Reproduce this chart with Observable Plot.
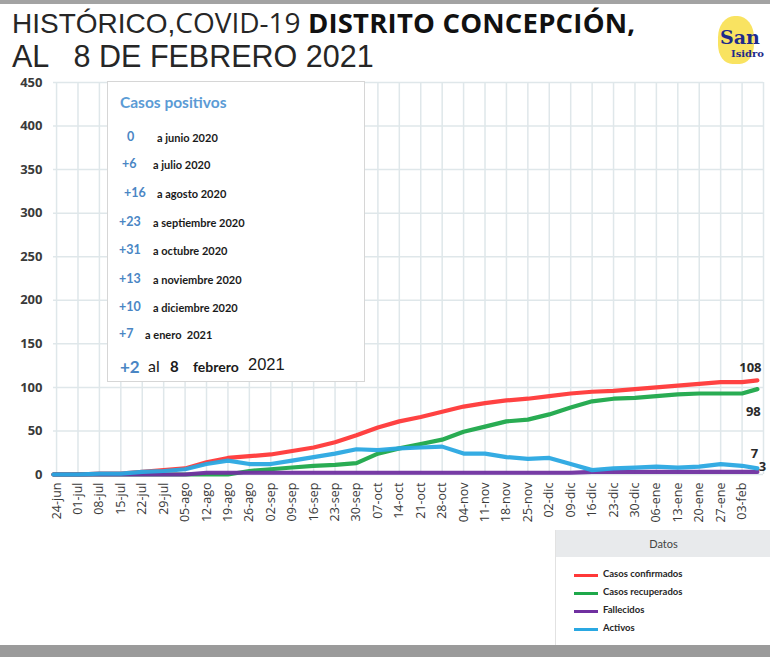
<!DOCTYPE html>
<html>
<head>
<meta charset="utf-8">
<script src="https://cdn.jsdelivr.net/npm/d3@7"></script>
<script src="https://cdn.jsdelivr.net/npm/@observablehq/plot@0.6"></script>
<style>
  html, body { margin: 0; padding: 0; background: #fff; }
  #page { position: relative; width: 770px; height: 657px; overflow: hidden; background: #fff; }
  .topbar { position: absolute; left: 0; top: 0; width: 770px; height: 4px; background: #a3a3a3; }
  .botbar { position: absolute; left: 0; top: 645px; width: 770px; height: 12px; background: #9b9b9b; }
  #title { position: absolute; left: 12px; top: 4px; color: #262626; white-space: pre; }
  #title .l1 { position: absolute; left: 0; top: 0; height: 36px; line-height: 36px; white-space: pre; }
  #title .l2 { position: absolute; left: 0; top: 37px; height: 30px; line-height: 30px; white-space: pre; font-family: "Liberation Sans", Arial, sans-serif; font-size: 30.5px; }
  .arial { font-family: "Liberation Sans", Arial, sans-serif; font-size: 28px; }
  .osans { font-family: "Open Sans", sans-serif; font-size: 28px; }
  .osansb { font-family: "Open Sans", sans-serif; font-size: 27.5px; font-weight: bold; color: #111; letter-spacing: 0.2px; }
  #logo { position: absolute; left: 714px; top: 14px; width: 52px; height: 54px; }
  #logo .emb { position: absolute; left: 4px; top: 2px; width: 36px; height: 48px; border-radius: 45% 45% 40% 40%; background: #f7dc3a; opacity: 0.8; }
  #logo .san { position: absolute; left: 6px; top: 12px; font-family: "DejaVu Serif", serif; font-weight: bold; font-size: 19px; color: #1e2a8a; }
  #logo .isidro { position: absolute; left: 17px; top: 34px; font-family: "DejaVu Serif", serif; font-weight: bold; font-size: 10px; color: #1e2a8a; }
  #chart { position: absolute; left: 0; top: 72px; }
  #box { position: absolute; left: 107px; top: 81px; width: 256px; height: 299px; background: #fff; border: 1px solid #d6d6d6; font-family: Lato, sans-serif; }
  #box .hdr { position: absolute; left: 12px; top: 11px; font-size: 15.5px; font-weight: bold; color: #5b9bd5; }
  #box .n { position: absolute; font-weight: bold; color: #4a86c4; font-size: 12.5px; }
  #box .t { position: absolute; font-weight: bold; color: #1a1a1a; font-size: 11px; }
  #legend { position: absolute; left: 555px; top: 530px; width: 215px; height: 115px; border-left: 1px solid #e2e2e2; background: #fff; font-family: Lato, sans-serif; }
  #legend .head { height: 27px; line-height: 27px; background: #e8eaec; text-align: center; font-size: 11px; color: #444; }
  #legend .item { position: absolute; left: 18px; height: 12px; font-size: 9.5px; font-weight: bold; color: #262626; }
  #legend .sw { position: absolute; left: 0; top: 5px; width: 24px; height: 3px; }
  #legend .lbl { position: absolute; left: 29px; top: -1px; white-space: nowrap; }
</style>
</head>
<body>
<div id="page">
  <div class="topbar"></div>
  <div id="title">
    <div class="l1"><span class="arial">HISTÓRICO,</span><span class="osans">COVID-19 </span><span class="osansb">DISTRITO CONCEPCIÓN,</span></div>
    <div class="l2">AL   8 DE FEBRERO 2021</div>
  </div>
  <div id="logo"><div class="emb"></div><div class="san">San</div><div class="isidro">Isidro</div></div>
  <div id="chart"></div>
  <div id="box"></div>
  <div id="legend"></div>
  <div class="botbar"></div>
</div>
<script>
// ---- Data ----
const weekDates = ["2020-06-24","2020-07-01","2020-07-08","2020-07-15","2020-07-22","2020-07-29","2020-08-05","2020-08-12","2020-08-19","2020-08-26","2020-09-02","2020-09-09","2020-09-16","2020-09-23","2020-09-30","2020-10-07","2020-10-14","2020-10-21","2020-10-28","2020-11-04","2020-11-11","2020-11-18","2020-11-25","2020-12-02","2020-12-09","2020-12-16","2020-12-23","2020-12-30","2021-01-06","2021-01-13","2021-01-20","2021-01-27","2021-02-03"];
const weekLabels = ["24-jun","01-jul","08-jul","15-jul","22-jul","29-jul","05-ago","12-ago","19-ago","26-ago","02-sep","09-sep","16-sep","23-sep","30-sep","07-oct","14-oct","21-oct","28-oct","04-nov","11-nov","18-nov","25-nov","02-dic","09-dic","16-dic","23-dic","30-dic","06-ene","13-ene","20-ene","27-ene","03-feb"];
const yTicks = [0,50,100,150,200,250,300,350,400,450];

const dates = ["2020-06-23","2020-06-24","2020-07-01","2020-07-08","2020-07-15","2020-07-22","2020-07-29","2020-08-05","2020-08-12","2020-08-19","2020-08-26","2020-09-02","2020-09-09","2020-09-16","2020-09-23","2020-09-30","2020-10-07","2020-10-14","2020-10-21","2020-10-28","2020-11-04","2020-11-11","2020-11-18","2020-11-25","2020-12-02","2020-12-09","2020-12-16","2020-12-23","2020-12-30","2021-01-06","2021-01-13","2021-01-20","2021-01-27","2021-02-03","2021-02-08"];
const confirmados = [0,0,0,1,1,3,5,7,14,19,21,23,27,31,37,45,54,61,66,72,78,82,85,87,90,93,95,96,98,100,102,104,106,106,108];
const recuperados = [0,0,0,0,0,0,0,0,0,0,4,6,8,10,11,13,24,30,35,40,49,55,61,63,69,77,84,87,88,90,92,93,93,93,98];
const fallecidos  = [0,0,0,0,0,0,0,0,2,2,2,2,2,2,2,2,2,2,2,2,2,2,2,2,2,2,3,3,3,3,3,3,3,3,3];
const activos     = [0,0,0,1,1,3,4,6,12,16,12,12,16,20,24,29,28,30,31,32,24,24,20,18,19,12,5,7,8,9,8,9,12,10,7];

const seriesNames = ["Casos confirmados","Casos recuperados","Fallecidos","Activos"];
const seriesColors = ["#ff3838","#1ea84a","#7030a0","#2aa8e2"];

const monthInc = ["0","+6","+16","+23","+31","+13","+10","+7"];
const monthTxt = ["a junio 2020","a julio 2020","a agosto 2020","a septiembre 2020","a octubre 2020","a noviembre 2020","a diciembre 2020","a enero  2021"];

// ---- Build ----
const parse = d3.utcParse("%Y-%m-%d");
const seriesVals = [confirmados, recuperados, fallecidos, activos];
const rows = [];
seriesNames.forEach((s, k) => dates.forEach((d, i) => rows.push({serie: s, date: parse(d), value: seriesVals[k][i]})));
const ticks = weekDates.map(parse);
const labelBy = new Map(ticks.map((t, i) => [+t, weekLabels[i]]));
const gridDates = [...ticks, d3.utcDay.offset(ticks[ticks.length - 1], 7)];
const lastRows = seriesNames.map((s, k) => ({serie: s, date: parse(dates[dates.length - 1]), value: seriesVals[k][dates.length - 1]}));
const dxs = [-7, -4, 5, -3], dys = [-13, 23, -5, -15];

const chart = Plot.plot({
  width: 770, height: 458,
  marginLeft: 53, marginRight: 7, marginTop: 10, marginBottom: 56,
  style: {fontFamily: "'Open Sans', sans-serif", background: "transparent"},
  x: {type: "utc", domain: [parse("2020-06-23"), parse("2021-02-10")]},
  y: {domain: [0, 450]},
  color: {domain: seriesNames, range: seriesColors},
  marks: [
    Plot.gridY(yTicks, {stroke: "#dfe7ea", strokeOpacity: 1, strokeWidth: 1.5}),
    Plot.gridX(gridDates, {stroke: "#dfe7ea", strokeOpacity: 1, strokeWidth: 1.5}),
    Plot.axisY(yTicks, {tickSize: 0, tickPadding: 11, fontSize: 13, fontWeight: "bold", fill: "#3a3a3a", label: null}),
    Plot.axisX(ticks, {tickSize: 0, tickPadding: 8, tickRotate: -90, fontSize: 12.5, fill: "#3a3a3a", tickFormat: d => labelBy.get(+d), label: null}),
    ...seriesNames.map((s, k) => Plot.line(rows.filter(r => r.serie === s), {x: "date", y: "value", stroke: seriesColors[k], strokeWidth: 4.2, strokeOpacity: 0.95})),
    ...seriesNames.map((s, k) => Plot.text([lastRows[k]], {x: "date", y: "value", text: d => String(d.value), dx: dxs[k], dy: dys[k], fontSize: 13, fontWeight: "bold", fill: "#2a2a2a"}))
  ]
});
document.getElementById("chart").appendChild(chart);

// annotation box
const box = document.getElementById("box");
box.innerHTML = '<div class="hdr">Casos positivos</div>';
const rowY = [49, 76, 105, 134, 162, 191, 219, 246];
const nX = [19, 14, 16, 11, 11, 11, 11, 11];
const tX = [49, 45, 49, 45, 45, 45, 45, 37];
monthInc.forEach((n, i) => {
  box.innerHTML += `<div class="n" style="left:${nX[i]}px;top:${rowY[i]-2}px">${n}</div><div class="t" style="left:${tX[i]}px;top:${rowY[i]}px;white-space:pre">${monthTxt[i]}</div>`;
});
box.innerHTML += `<div style="position:absolute;left:12px;top:274px;white-space:pre;color:#1a1a1a">` +
  `<span style="position:absolute;left:0;top:0;font-weight:bold;color:#4a86c4;font-size:17px">+2</span>` +
  `<span style="position:absolute;left:28px;top:0;font-size:16px">al</span>` +
  `<span style="position:absolute;left:50px;top:1px;font-weight:bold;font-size:15px">8</span>` +
  `<span style="position:absolute;left:73px;top:2px;font-weight:bold;font-size:14px">febrero</span>` +
  `<span style="position:absolute;left:128px;top:-1px;font-family:'Liberation Sans',Arial,sans-serif;font-size:16.5px">2021</span></div>`;

// legend
const leg = document.getElementById("legend");
leg.innerHTML = '<div class="head">Datos</div>';
const legY = [39, 57, 75, 93];
seriesNames.forEach((s, k) => {
  leg.innerHTML += `<div class="item" style="top:${legY[k]}px"><div class="sw" style="background:${seriesColors[k]}"></div><div class="lbl">${s}</div></div>`;
});
</script>
</body>
</html>
